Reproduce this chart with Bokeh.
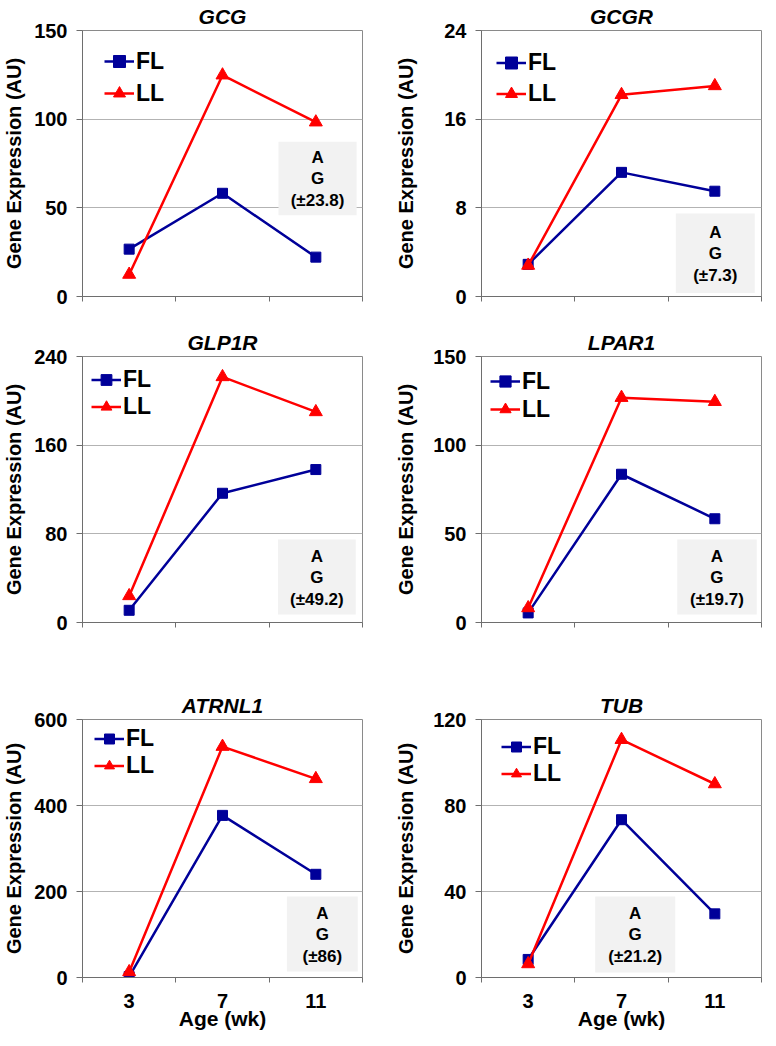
from bokeh.plotting import figure
from bokeh.layouts import column, row
from bokeh.models import Range1d, FixedTicker, Legend, LegendItem, BoxAnnotation, Label
from bokeh.embed import file_html
from bokeh.resources import INLINE

# ---------------- data ----------------
ages = ["3", "7", "11"]
genes = ["GCG", "GCGR", "GLP1R", "LPAR1", "ATRNL1", "TUB"]

fl_gcg = [26.7, 58.2, 22.2]
ll_gcg = [12.4, 124.8, 98.3]
fl_gcgr = [2.9, 11.2, 9.5]
ll_gcgr = [2.8, 18.2, 19.0]
fl_glp1r = [11.0, 116.6, 138.0]
ll_glp1r = [24.0, 221.6, 190.0]
fl_lpar1 = [5.4, 83.6, 58.5]
ll_lpar1 = [8.2, 126.8, 124.5]
fl_atrnl1 = [2.0, 377.0, 240.0]
ll_atrnl1 = [13.0, 537.0, 462.0]
fl_tub = [8.4, 73.4, 29.6]
ll_tub = [6.3, 110.6, 90.0]

yticks_gcg = [0, 50, 100, 150]
yticks_gcgr = [0, 8, 16, 24]
yticks_glp1r = [0, 80, 160, 240]
yticks_lpar1 = [0, 50, 100, 150]
yticks_atrnl1 = [0, 200, 400, 600]
yticks_tub = [0, 40, 80, 120]

effect_lines = ["A", "G"]
sem_labels = ["(±23.8)", "(±7.3)", "(±49.2)", "(±19.7)", "(±86)", "(±21.2)"]

series_names = ["FL", "LL"]
x_label = "Age (wk)"
y_label = "Gene Expression (AU)"

fl_all = [fl_gcg, fl_gcgr, fl_glp1r, fl_lpar1, fl_atrnl1, fl_tub]
ll_all = [ll_gcg, ll_gcgr, ll_glp1r, ll_lpar1, ll_atrnl1, ll_tub]
yt_all = [yticks_gcg, yticks_gcgr, yticks_glp1r, yticks_lpar1, yticks_atrnl1, yticks_tub]

# ---------------- layout / style ----------------
FONT = "Liberation Sans"
FL_COLOR = "#000099"
LL_COLOR = "#FF0000"
AXIS_COLOR = "#6e6e6e"
OUTLINE_COLOR = "#8a8a8a"
GRID_COLOR = "#b3b3b3"
BOX_COLOR = "#f2f2f2"
TICK_FS = 20
TICK_DIGIT = 11.1

FRAME_W = 280
row_frame_h = [266, 266, 258]
row_top = [27, 46, 83]
row_bottom = [14, 14, 56]
col_left = [78, 97]
col_right = [22, 3]

# annotation box as fractions of frame (x0, x1, y0, y1)
box_frac = [
    (0.700, 0.979, 0.305, 0.582),
    (0.694, 0.976, 0.013, 0.312),
    (0.698, 0.976, 0.030, 0.312),
    (0.699, 0.983, 0.030, 0.312),
    (0.730, 0.983, 0.023, 0.314),
    (0.406, 0.692, 0.019, 0.314),
]
# legend: (left offset px, first row centre from frame top px, row step px)
leg_pos = [(22, 31, 32), (15, 32, 31), (9, 23, 27), (9, 25, 28), (12, 22, 25), (20, 30, 25)]


def make_panel(i):
    c = i % 2
    r = i // 2
    fh = row_frame_h[r]
    yt = yt_all[i]
    ymax = yt[-1]
    ncat = len(ages)
    xs = [k + 0.5 for k in range(ncat)]

    p = figure(frame_width=FRAME_W, frame_height=fh,
               min_border_left=col_left[c], min_border_right=col_right[c],
               min_border_top=row_top[r], min_border_bottom=row_bottom[r],
               x_range=Range1d(0, ncat), y_range=Range1d(0, ymax),
               output_backend="svg", toolbar_location=None, title=genes[i])
    p.background_fill_color = "white"
    p.border_fill_color = "white"
    p.outline_line_color = OUTLINE_COLOR
    p.outline_line_width = 1

    p.title.text_font = FONT
    p.title.text_font_size = "21px"
    p.title.text_font_style = "bold italic"
    p.title.text_color = "black"
    p.title.align = "center"
    p.title.standoff = 5

    # x axis: labels at category centres, tick marks at boundaries
    xa = p.xaxis[0]
    xa.major_tick_out = 0
    xa.major_tick_in = 0
    xa.minor_tick_out = 5
    xa.minor_tick_in = 0
    xa.minor_tick_line_color = AXIS_COLOR
    xa.axis_line_color = AXIS_COLOR
    if r == 2:
        xa.ticker = FixedTicker(ticks=xs, minor_ticks=list(range(ncat + 1)))
        xa.major_label_overrides = {x: a for x, a in zip(xs, ages)}
        xa.major_label_text_font = FONT
        xa.major_label_text_font_style = "bold"
        xa.major_label_text_color = "black"
        xa.major_label_text_font_size = "%dpx" % TICK_FS
        xa.major_label_standoff = 11
        xa.axis_label = x_label
        xa.axis_label_text_font = FONT
        xa.axis_label_text_font_size = "21px"
        xa.axis_label_text_font_style = "bold"
        xa.axis_label_text_color = "black"
        xa.axis_label_standoff = -4
    else:
        xa.ticker = FixedTicker(ticks=[], minor_ticks=list(range(ncat + 1)))
        xa.major_label_standoff = 0
    p.xgrid.visible = False

    ya = p.yaxis[0]
    ya.ticker = FixedTicker(ticks=yt, minor_ticks=[])
    ya.major_tick_out = 6
    ya.major_tick_in = 0
    ya.minor_tick_out = 0
    ya.minor_tick_in = 0
    ya.major_tick_line_color = AXIS_COLOR
    ya.axis_line_color = AXIS_COLOR
    ya.major_label_text_font = FONT
    ya.major_label_text_font_size = "%dpx" % TICK_FS
    ya.major_label_text_font_style = "bold"
    ya.major_label_text_color = "black"
    ya.major_label_standoff = 9
    ya.axis_label = y_label
    ya.axis_label_text_font = FONT
    ya.axis_label_text_font_size = "20px"
    ya.axis_label_text_font_style = "bold"
    ya.axis_label_text_color = "black"
    ndig = max(len(str(t)) for t in yt)
    if c == 0:
        ya.axis_label_standoff = 6 + int((3 - ndig) * TICK_DIGIT)
    else:
        ya.axis_label_standoff = 13 + int((3 - ndig) * TICK_DIGIT)
    p.ygrid.grid_line_color = GRID_COLOR
    p.ygrid.grid_line_width = 1

    # annotation box
    bx0, bx1, by0, by1 = box_frac[i]
    p.add_layout(BoxAnnotation(left=bx0 * ncat, right=bx1 * ncat,
                               bottom=by0 * ymax, top=by1 * ymax,
                               fill_color=BOX_COLOR, fill_alpha=1.0,
                               line_color=None, level="underlay"))
    cx = (bx0 + bx1) / 2 * ncat
    cy = (by0 + by1) / 2 * ymax
    texts = effect_lines + [sem_labels[i]]
    for t, off in zip(texts, [21, 0, -22]):
        p.add_layout(Label(x=cx, y=cy, y_offset=off, text=t,
                           text_align="center", text_baseline="middle",
                           text_font=FONT, text_font_size="17px",
                           text_font_style="bold", text_color="black"))

    # series
    l1 = p.line(xs, fl_all[i], line_color=FL_COLOR, line_width=2.5)
    s1 = p.scatter(xs, fl_all[i], marker="square", size=10,
                   fill_color=FL_COLOR, line_color=FL_COLOR)
    l2 = p.line(xs, ll_all[i], line_color=LL_COLOR, line_width=2.5)
    s2 = p.scatter(xs, ll_all[i], marker="triangle", size=13,
                   fill_color=LL_COLOR, line_color=LL_COLOR)

    lx, c1, st = leg_pos[i]
    ly = fh - (c1 - st / 2) - 2 * st
    legend = Legend(items=[LegendItem(label=series_names[0], renderers=[l1, s1]),
                           LegendItem(label=series_names[1], renderers=[l2, s2])],
                    location=(lx, ly), margin=0, padding=0, spacing=0,
                    glyph_width=30, glyph_height=st, label_height=st,
                    label_standoff=2,
                    label_text_font=FONT, label_text_font_size="23px",
                    label_text_font_style="bold", label_text_color="black",
                    border_line_color=None, background_fill_alpha=0.0)
    p.add_layout(legend)
    return p


panels = [make_panel(i) for i in range(len(genes))]
layout = column(row(panels[0], panels[1]),
                row(panels[2], panels[3]),
                row(panels[4], panels[5]))

open("out.html", "w").write(file_html(layout, INLINE))
